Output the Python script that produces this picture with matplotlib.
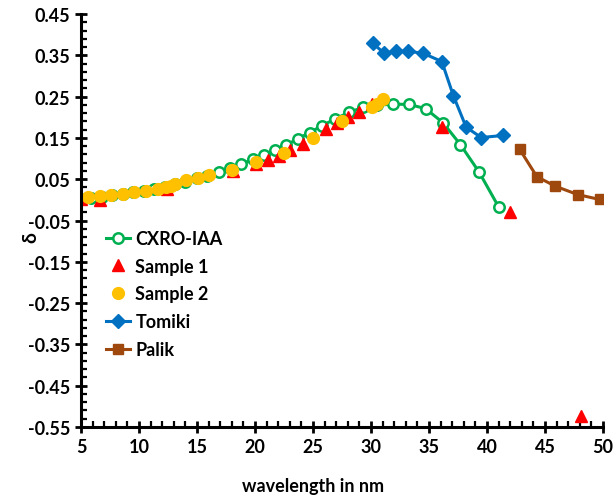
import matplotlib.pyplot as plt
from matplotlib.ticker import MultipleLocator, FormatStrFormatter

plt.rcParams['font.family'] = ['Lato', 'DejaVu Sans']
plt.rcParams['font.weight'] = 'bold'

# CXRO-IAA
cxro_x = [5.0, 5.9, 6.8, 7.7, 8.6, 9.5, 10.4, 11.3, 12.2, 13.1, 14.0, 15.0, 15.9, 16.9,
          17.8, 18.8, 19.8, 20.8, 21.7, 22.7, 23.7, 24.7, 25.8, 26.9, 28.1, 29.3, 30.5,
          31.9, 33.3, 34.7, 36.2, 37.7, 39.3, 41.0]
cxro_y = [0.003, 0.005, 0.008, 0.011, 0.014, 0.018, 0.022, 0.027, 0.032, 0.038, 0.044,
          0.052, 0.059, 0.068, 0.077, 0.087, 0.098, 0.109, 0.120, 0.133, 0.148, 0.163,
          0.180, 0.196, 0.212, 0.224, 0.229, 0.232, 0.231, 0.221, 0.187, 0.134, 0.068, -0.017]

# Sample 1
s1_x = [5.0, 6.6, 12.4, 18.1, 20.1, 21.1, 22.1, 23.0, 24.1, 26.1, 27.1, 28.0, 29.0, 30.1, 36.1, 42.0, 48.1]
s1_y = [0.002, 0.0, 0.027, 0.069, 0.086, 0.096, 0.107, 0.122, 0.136, 0.172, 0.186, 0.201,
        0.214, 0.233, 0.176, -0.029, -0.523]

# Sample 2
s2_x = [5.6, 6.6, 7.6, 8.6, 9.6, 10.6, 11.6, 12.3, 12.8, 13.1, 14.05, 15.05, 16.05, 18.0,
        20.1, 22.5, 25.0, 27.5, 30.05, 30.5, 31.05]
s2_y = [0.006, 0.009, 0.012, 0.015, 0.018, 0.021, 0.026, 0.030, 0.034, 0.038, 0.047, 0.054,
        0.061, 0.073, 0.092, 0.113, 0.149, 0.192, 0.224, 0.232, 0.244]

# Tomiki
tom_x = [30.15, 31.15, 32.15, 33.15, 34.5, 36.1, 37.1, 38.2, 39.5, 41.35]
tom_y = [0.379, 0.355, 0.360, 0.360, 0.355, 0.335, 0.252, 0.176, 0.151, 0.156]

# Palik
pal_x = [42.8, 44.3, 45.9, 47.8, 49.7]
pal_y = [0.123, 0.056, 0.033, 0.013, 0.001]

fig = plt.figure(figsize=(6.16, 5.02), dpi=100)
ax = fig.add_axes([0.1315, 0.1474, 0.8475, 0.8226])

ax.plot(cxro_x, cxro_y, color='#00B050', lw=2.2, marker='o', ms=7.5,
        mfc='white', mec='#00B050', mew=1.8, label='CXRO-IAA')
ax.plot(s1_x, s1_y, ls='none', marker='^', ms=9, color='#FF0000', label='Sample 1')
ax.plot(s2_x, s2_y, ls='none', marker='o', ms=8.5, color='#FFC000', label='Sample 2')
ax.plot(tom_x, tom_y, color='#0070C0', lw=2.2, marker='D', ms=7, label='Tomiki')
ax.plot(pal_x, pal_y, color='#9E480E', lw=2.2, marker='s', ms=7, label='Palik')

ax.set_xlim(5, 50)
ax.set_ylim(-0.55, 0.45)
ax.xaxis.set_major_locator(MultipleLocator(5))
ax.xaxis.set_minor_locator(MultipleLocator(1))
ax.yaxis.set_major_locator(MultipleLocator(0.1, offset=0.05))
ax.yaxis.set_minor_locator(MultipleLocator(0.02, offset=0.01))
ax.yaxis.set_major_formatter(FormatStrFormatter('%.2f'))

for s in ['top', 'right']:
    ax.spines[s].set_visible(False)
for s in ['left', 'bottom']:
    ax.spines[s].set_linewidth(2.2)

ax.tick_params(which='major', direction='inout', length=9, width=2, labelsize=13)
ax.tick_params(which='minor', direction='in', length=4, width=1.6)

ax.set_xlabel('wavelength in nm', fontsize=13, fontweight='bold')
ax.set_ylabel('δ', fontsize=14, fontweight='bold')
ax.xaxis.set_label_coords(0.444, -0.122)
ax.yaxis.set_label_coords(-0.08, 0.46)

ax.legend(loc='upper left', bbox_to_anchor=(0.035, 0.495), frameon=False, fontsize=13,
          handlelength=1.3, handletextpad=0.3, labelspacing=0.6, borderaxespad=0)

fig.savefig('out.png', dpi=100)
